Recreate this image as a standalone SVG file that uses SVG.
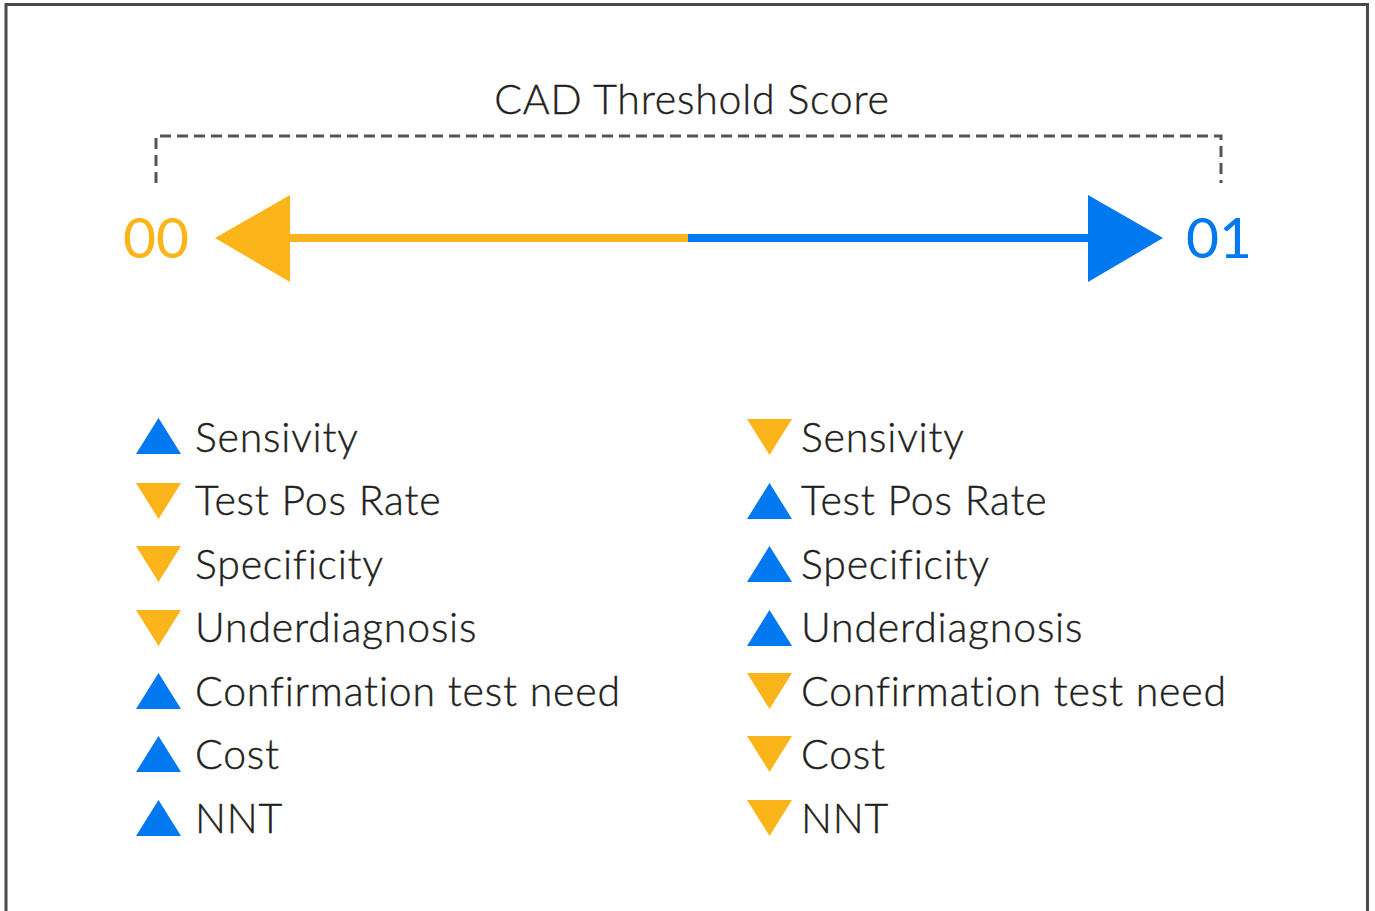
<svg xmlns="http://www.w3.org/2000/svg" width="1375" height="911" viewBox="0 0 1375 911">
<style>
.lbl{font-family:Lato,"Open Sans","Liberation Sans",sans-serif;font-size:41px;font-weight:300;letter-spacing:0.8px;fill:#231f20;stroke:#231f20;stroke-width:0.4px}
.num{font-family:Lato,"Open Sans","Liberation Sans",sans-serif;font-size:57px;font-weight:400}
.up{fill:#0078ef}
.dn{fill:#fbb41a}
</style>
<defs>
<path id="tu" d="M0,-18 L22.5,18 L-22.5,18 Z"/>
<path id="td" d="M0,18 L22.5,-18 L-22.5,-18 Z"/>
</defs>
<rect x="0" y="0" width="1375" height="911" fill="#ffffff"/>
<path d="M6,915 L6,4.5 L1367.5,4.5 L1367.5,915" fill="none" stroke="#4a4a4a" stroke-width="3"/>
<g id="title">
<text class="lbl" x="692" y="114" text-anchor="middle">CAD Threshold Score</text>
</g>
<g id="connectors">
<path d="M156,183 L156,136 L1221,136 L1221,183" fill="none" stroke="#555555" stroke-width="3" stroke-dasharray="11,6"/>
<line x1="288" y1="238" x2="688" y2="238" stroke="#fbb41a" stroke-width="8"/>
<line x1="688" y1="238" x2="1090" y2="238" stroke="#0078ef" stroke-width="8"/>
<path d="M215,238 L290,195 L290,282 Z" fill="#fbb41a"/>
<path d="M1163,238 L1088,195 L1088,282 Z" fill="#0078ef"/>
</g>
<g id="end-00"><text class="num" x="123" y="258" fill="#fbb41a">00</text></g>
<g id="end-01"><text class="num" x="1186" y="258" fill="#0078ef">01</text></g>
<g id="left-list">
<use href="#tu" class="up" x="158.5" y="436"/><text class="lbl" x="195" y="452">Sensivity</text>
<use href="#td" class="dn" x="158.5" y="501"/><text class="lbl" x="195" y="515">Test Pos Rate</text>
<use href="#td" class="dn" x="158.5" y="564"/><text class="lbl" x="195" y="579">Specificity</text>
<use href="#td" class="dn" x="158.5" y="628"/><text class="lbl" x="195" y="642">Underdiagnosis</text>
<use href="#tu" class="up" x="158.5" y="691"/><text class="lbl" x="195" y="706">Confirmation test need</text>
<use href="#tu" class="up" x="158.5" y="754"/><text class="lbl" x="195" y="769">Cost</text>
<use href="#tu" class="up" x="158.5" y="818"/><text class="lbl" x="195" y="833">NNT</text>
</g>
<g id="right-list">
<use href="#td" class="dn" x="769.5" y="437"/><text class="lbl" x="801" y="452">Sensivity</text>
<use href="#tu" class="up" x="769.5" y="501"/><text class="lbl" x="801" y="515">Test Pos Rate</text>
<use href="#tu" class="up" x="769.5" y="564"/><text class="lbl" x="801" y="579">Specificity</text>
<use href="#tu" class="up" x="769.5" y="628"/><text class="lbl" x="801" y="642">Underdiagnosis</text>
<use href="#td" class="dn" x="769.5" y="691"/><text class="lbl" x="801" y="706">Confirmation test need</text>
<use href="#td" class="dn" x="769.5" y="754"/><text class="lbl" x="801" y="769">Cost</text>
<use href="#td" class="dn" x="769.5" y="818"/><text class="lbl" x="801" y="833">NNT</text>
</g>
</svg>
